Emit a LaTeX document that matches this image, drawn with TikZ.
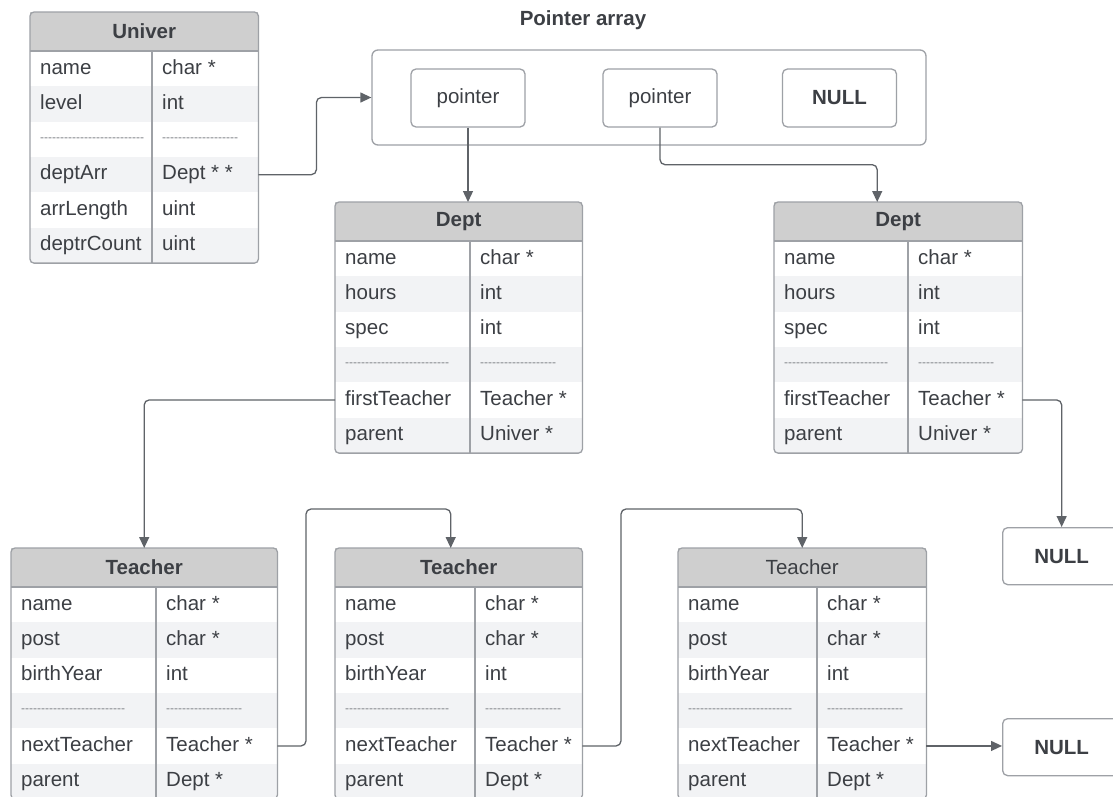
\documentclass[tikz,border=0pt]{standalone}
\usepackage{fontspec}
\setmainfont{Liberation Sans}
\usetikzlibrary{arrows.meta}

\definecolor{hdrgray}{HTML}{CFCFCF}
\definecolor{rowgray}{HTML}{F2F3F5}
\definecolor{edgegray}{HTML}{9EA1A6}
\definecolor{txtgray}{HTML}{3C3F44}
\definecolor{dashgray}{HTML}{7F8287}
\definecolor{linkgray}{HTML}{5F6368}

\newcommand\dashcell[1]{\raisebox{3pt}{\fontsize{12}{14}\selectfont\color{dashgray}\foreach\k in {1,...,#1}{-\kern0pt}}}

\tikzset{
  hdr/.style={fill=hdrgray, minimum height=38.5pt, anchor=north west, inner sep=0pt,
    text=txtgray, font=\fontsize{20.5}{24}\selectfont\bfseries},
  fieldrow/.style={minimum height=35.3pt, anchor=north west, inner sep=0pt},
  fieldtxt/.style={anchor=west, inner sep=0pt, text height=14.5pt, text depth=4pt,
    text=txtgray, font=\fontsize{20.5}{24}\selectfont},
  edge/.style={draw=edgegray, line width=1.3pt},
  ptrbox/.style={edge, rounded corners=5pt, minimum width=114pt, minimum height=58pt,
    inner sep=0pt, text=txtgray, font=\fontsize{20.5}{24}\selectfont},
  link/.style={draw=linkgray, line width=1.3pt, rounded corners=5pt,
    -{Triangle[length=11pt,width=10pt]}}
}

% #1 name, #2 x, #3 y, #4 width, #5 divider, #6 title, #7 rows
\newcommand\structbox[7]{
  \node[hdr, minimum width=#4pt] (#1) at (#2,#3) {#6};
  \foreach \f/\t [count=\i] in {#7} {
    \ifodd\i\relax\def\rc{white}\else\def\rc{rowgray}\fi
    \node[fieldrow, fill=\rc, minimum width=#4pt] (#1-\i) at ([yshift={-(\i-1)*35.3pt}]#1.south west) {};
    \node[fieldtxt] at ([xshift=10pt]#1-\i.west) {\f};
    \node[fieldtxt] at ([xshift={#5pt+10pt}]#1-\i.west) {\t};
  }
  \draw[edge] (#1.south west) -- (#1.south east);
  \draw[edge] ([xshift=#5pt]#1-1.north west) -- ([xshift=#5pt]#1-6.south west);
  \draw[edge, rounded corners=4pt] (#1.north west) rectangle (#1-6.south east);
}

\begin{document}
\begin{tikzpicture}[x=1pt,y=-1pt]
\fill[white] (0,0) rectangle (1113,796);
\useasboundingbox (0,0) rectangle (1113,796);

\structbox{univ}{30}{12}{228}{122}{Univer}{name/char *, level/int, \dashcell{26}/\dashcell{19},
  deptArr/Dept * *, arrLength/uint, deptrCount/uint}
\structbox{dept1}{335}{202}{247}{135}{Dept}{name/char *, hours/int, spec/int, \dashcell{26}/\dashcell{19},
  firstTeacher/Teacher *, parent/Univer *}
\structbox{dept2}{774}{202}{248}{134}{Dept}{name/char *, hours/int, spec/int, \dashcell{26}/\dashcell{19},
  firstTeacher/Teacher *, parent/Univer *}
\structbox{teach1}{11}{548}{266}{145}{Teacher}{name/char *, post/char *, birthYear/int, \dashcell{26}/\dashcell{19},
  nextTeacher/Teacher *, parent/Dept *}
\structbox{teach2}{335}{548}{247}{140}{Teacher}{name/char *, post/char *, birthYear/int, \dashcell{26}/\dashcell{19},
  nextTeacher/Teacher *, parent/Dept *}
\structbox{teach3}{678}{548}{248}{139}{{\mdseries Teacher}}{name/char *, post/char *, birthYear/int, \dashcell{26}/\dashcell{19},
  nextTeacher/Teacher *, parent/Dept *}

\node[text=txtgray, font=\fontsize{20.5}{24}\selectfont\bfseries] (ptitle) at (583,20) {Pointer array};
\node[edge, rounded corners=6pt, minimum width=554pt, minimum height=95pt] (parr) at (649,97.5) {};
\node[ptrbox] (p1) at (468,98) {pointer};
\node[ptrbox] (p2) at (660,98) {pointer};
\node[ptrbox] (pnull) at (839.5,98) {\bfseries NULL};
\node[ptrbox, minimum width=118pt, minimum height=57pt, anchor=north west] (null1) at (1002,527) {\bfseries NULL};
\node[ptrbox, minimum width=118pt, minimum height=57pt, anchor=north west] (null2) at (1002,718) {\bfseries NULL};

\coordinate (bendA) at (306,509);
\coordinate (bendB) at (621,509);

\draw[link] (univ-4.east) -- ++(58,0) |- (parr.west);
\draw[link] (p1.south) -- (p1.south |- dept1.north);
\draw[link] (p2.south) -- ++(0,37) -| ([xshift=-21pt]dept2.north);
\draw[link] (dept1-5.west) -| (teach1.north);
\draw[link] (dept2-5.east) -| (null1.north);
\draw[link] (teach1-5.east) -| (bendA) -| ([xshift=-8pt]teach2.north);
\draw[link] (teach2-5.east) -| (bendB) -| (teach3.north);
\draw[link] (teach3-5.east) -- (teach3-5.east -| null2.west);

\end{tikzpicture}
\end{document}
